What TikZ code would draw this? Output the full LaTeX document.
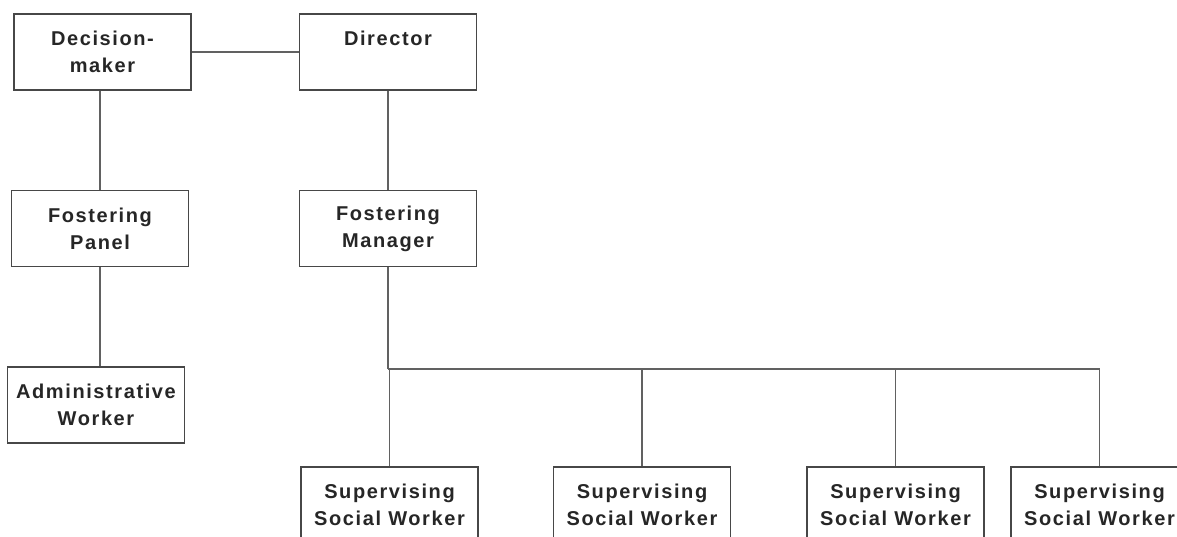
\documentclass[tikz,border=0pt]{standalone}
\usepackage{fontspec}
\setmainfont{Liberation Sans}[LetterSpace=8]
\usetikzlibrary{positioning,calc}
\tikzset{
box/.style = {draw=black!72, line width=1.4pt, fill=white, rectangle, minimum height=76pt, minimum width=177pt, inner sep=0pt, align=center, text=black!85, font=\fontsize{20}{27}\selectfont\bfseries},
tmp/.style = {coordinate},
link/.style = {draw=black!62, line width=1.4pt}
}
\begin{document}
\begin{tikzpicture}[x=1pt,y=-1pt,node distance=176.5pt]
\useasboundingbox (0,0) rectangle (1177,536);
\clip (0,0) rectangle (1177,536);
\fill[white] (0,0) rectangle (1177,536);
\node[box] (dm) at (102.5,52) {Decision-\\maker};
\node[box, right of=dm, node distance=285.5pt] (dir) {Director\\\mbox{}};
\node[box, below of=dm, xshift=-2.5pt] (panel) {Fostering\\Panel};
\node[box, below of=panel, xshift=-4pt] (admin) {Administrative\\Worker};
\node[box, below of=dir] (fm) {Fostering\\Manager};
\node[box, below of=fm, node distance=276.5pt, xshift=1.5pt] (ssw1) {Supervising\\Social Worker};
\node[box, right of=ssw1, node distance=252.5pt] (ssw2) {Supervising\\Social Worker};
\node[box, right of=ssw2, node distance=253.5pt] (ssw3) {Supervising\\Social Worker};
\node[box, right of=ssw3, node distance=204pt] (ssw4) {Supervising\\Social Worker};
\node[tmp, below of=fm, node distance=140.5pt] (bus) {};
\draw[link] (dm) -- (dir);
\draw[link] (panel.north) -- (panel.north |- dm.south);
\draw[link] (panel.south) -- (panel.south |- admin.north);
\draw[link] (dir) -- (fm);
\draw[link] (fm.south) -- (bus);
\draw[link] (bus) -- (bus -| ssw4) -- (ssw4.north);
\foreach \n in {ssw1,ssw2,ssw3}
  \draw[link] (bus -| \n) -- (\n.north);
\end{tikzpicture}
\end{document}
